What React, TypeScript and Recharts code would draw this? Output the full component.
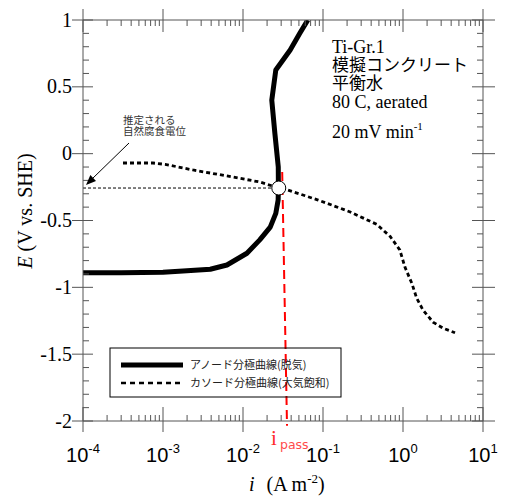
import {
  LineChart, Line, XAxis, YAxis, ReferenceDot, ReferenceLine,
} from 'recharts'

// anodic polarization curve (deaerated)
const anodeI = [1e-4, 3e-4, 1e-3, 1.78e-3, 3.9e-3, 6.3e-3, 0.0112, 0.0162, 0.0219, 0.0257, 0.0275, 0.0277, 0.0276, 0.025, 0.0229, 0.0257, 0.0389, 0.0513, 0.0646]
const anodeE = [-0.89, -0.89, -0.888, -0.878, -0.865, -0.833, -0.745, -0.645, -0.55, -0.447, -0.347, -0.26, -0.1, 0.154, 0.4, 0.626, 0.776, 0.9, 1.0]

// cathodic polarization curve (air saturated)
const cathodeI = [3.16e-4, 7.5e-4, 1.06e-3, 2.37e-3, 6.3e-3, 0.0162, 0.0282, 0.0355, 0.087, 0.219, 0.473, 0.692, 0.912, 1.06, 1.29, 1.48, 1.78, 2.37, 3.16, 4.47]
const cathodeE = [-0.07, -0.07, -0.08, -0.122, -0.167, -0.212, -0.257, -0.27, -0.347, -0.436, -0.53, -0.62, -0.72, -0.85, -0.97, -1.08, -1.17, -1.26, -1.305, -1.34]

const corrI = 0.028
const corrE = -0.257
const passTop = [0.0309, -0.137]
const passBottom = [0.0355, -2.035]

const xMajor = [1e-4, 1e-3, 1e-2, 1e-1, 1, 10]
const xTicks = xMajor.flatMap((d, i) =>
  i === xMajor.length - 1 ? [d] : [1, 2, 3, 4, 5, 6, 7, 8, 9].map(m => m * d))
const yMajor = [-2, -1.5, -1, -0.5, 0, 0.5, 1]
const yTicks = Array.from({ length: 31 }, (_, k) => Math.round((-2 + k * 0.1) * 10) / 10)

const anodeData = anodeI.map((x, k) => ({ x, e: anodeE[k] }))
const cathodeData = cathodeI.map((x, k) => ({ x, e: cathodeE[k] }))

const AX = '#555'
const SERIF = 'Liberation Serif'
const SANS = 'Liberation Sans'
const JP = 'Noto Sans CJK JP'

const isMajorX = (v: number) => Math.abs(Math.log10(v) - Math.round(Math.log10(v))) < 1e-6
const isMajorY = (v: number) => Math.abs(v * 2 - Math.round(v * 2)) < 1e-6

function BottomTick({ x, y, payload }: any) {
  const v = payload.value
  if (!isMajorX(v)) return <line x1={x} x2={x} y1={y} y2={y - 6} stroke={AX} />
  const e = Math.round(Math.log10(v))
  return (
    <g>
      <line x1={x} x2={x} y1={y - 14} y2={y + 11} stroke={AX} />
      <text x={x} y={y + 41} textAnchor="middle" fontFamily={SANS} fontSize={20} fill="#000">
        10<tspan dy={-9} fontSize={13}>{e}</tspan>
      </text>
    </g>
  )
}

function TopTick({ x, y, payload }: any) {
  const v = payload.value
  if (!isMajorX(v)) return <line x1={x} x2={x} y1={y} y2={y + 6} stroke={AX} />
  return <line x1={x} x2={x} y1={y - 11} y2={y + 12} stroke={AX} />
}

function LeftTick({ x, y, payload }: any) {
  const v = payload.value
  if (!isMajorY(v)) return <line x1={x} x2={x + 6} y1={y} y2={y} stroke={AX} />
  return (
    <g>
      <line x1={x - 11} x2={x + 10} y1={y} y2={y} stroke={AX} />
      <text x={x - 11} y={y + 6.5} textAnchor="end" fontFamily={SERIF} fontSize={20} fill="#000">
        {String(v)}
      </text>
    </g>
  )
}

function RightTick({ x, y, payload }: any) {
  const v = payload.value
  if (!isMajorY(v)) return <line x1={x} x2={x - 6} y1={y} y2={y} stroke={AX} />
  return <line x1={x - 11} x2={x + 12} y1={y} y2={y} stroke={AX} />
}

function Notes() {
  return (
    <svg width={505} height={497} style={{ position: 'absolute', left: 0, top: 0, pointerEvents: 'none' }}>
      {/* axis titles */}
      <text transform="translate(32,211) rotate(-90)" textAnchor="middle" fontFamily={SERIF} fontSize={20}>
        <tspan fontStyle="italic">E</tspan>
        <tspan dx={5}>(V vs. SHE)</tspan>
      </text>
      <text x={249} y={491} fontFamily={SERIF} fontSize={20}>
        <tspan fontStyle="italic">i</tspan>
        <tspan dx={12}>(A m</tspan>
        <tspan dy={-8} fontSize={13}>-2</tspan>
        <tspan dy={8}>)</tspan>
      </text>

      {/* conditions */}
      <text x={332} y={53} fontFamily={SERIF} fontSize={18}>Ti-Gr.1</text>
      <text x={332} y={71} fontFamily={JP} fontSize={17}>模擬コンクリート</text>
      <text x={332} y={89} fontFamily={JP} fontSize={17}>平衡水</text>
      <text x={332} y={108} fontFamily={SERIF} fontSize={18}>80 C, aerated</text>
      <text x={332} y={138} fontFamily={SERIF} fontSize={18}>
        20 mV min<tspan dy={-8} fontSize={11}>-1</tspan>
      </text>

      {/* corrosion potential note */}
      <text x={123} y={124} fontFamily={JP} fontSize={10.5} fill="#333">推定される</text>
      <text x={123} y={135} fontFamily={JP} fontSize={10.5} fill="#333">自然腐食電位</text>
      <line x1={129} y1={143} x2={92} y2={179} stroke="#000" strokeWidth={1} />
      <polygon points="86,185 96,180.9 90.4,175.1" fill="#000" />

      {/* i_pass */}
      <text x={271} y={445} fontFamily={SERIF} fontSize={21} fill="#ff2a2a">i</text>
      <text x={280} y={449} fontFamily="DejaVu Sans" fontSize={12.5} fill="#ff4a4a">pass</text>

      {/* legend */}
      <rect x={110} y={348} width={231} height={49} fill="none" stroke="#000" strokeWidth={1} />
      <line x1={121} x2={183} y1={365} y2={365} stroke="#000" strokeWidth={5} />
      <line x1={121} x2={183} y1={383} y2={383} stroke="#000" strokeWidth={2.5} strokeDasharray="5 4" />
      <text x={190} y={369} fontFamily={JP} fontSize={11} fill="#222">アノード分極曲線(脱気)</text>
      <text x={190} y={387} fontFamily={JP} fontSize={11} fill="#222">カソード分極曲線(大気飽和)</text>
    </svg>
  )
}

export default function App() {
  return (
    <div style={{ position: 'absolute', left: 0, top: 0, width: 505, height: 497, background: '#fff' }}>
      <LineChart width={505} height={497} margin={{ top: 10, right: 12, bottom: 26, left: 23 }}>
        <XAxis
          xAxisId="b" dataKey="x" type="number" scale="log" domain={[1e-4, 10]} allowDataOverflow
          orientation="bottom" height={50} ticks={xTicks} interval={0}
          tick={<BottomTick />} tickLine={false} tickSize={0} tickMargin={0}
          axisLine={{ stroke: AX }}
        />
        <XAxis
          xAxisId="t" dataKey="x" type="number" scale="log" domain={[1e-4, 10]} allowDataOverflow
          orientation="top" height={10} ticks={xTicks} interval={0}
          tick={<TopTick />} tickLine={false} tickSize={0} tickMargin={0}
          axisLine={{ stroke: AX }}
        />
        <YAxis
          yAxisId="l" dataKey="e" type="number" domain={[-2, 1]} allowDataOverflow
          orientation="left" width={60} ticks={yTicks} interval={0}
          tick={<LeftTick />} tickLine={false} tickSize={0} tickMargin={0}
          axisLine={{ stroke: AX }}
        />
        <YAxis
          yAxisId="r" dataKey="e" type="number" domain={[-2, 1]} allowDataOverflow
          orientation="right" width={10} ticks={yTicks} interval={0}
          tick={<RightTick />} tickLine={false} tickSize={0} tickMargin={0}
          axisLine={{ stroke: AX }}
        />
        <ReferenceLine
          xAxisId="b" yAxisId="l"
          segment={[{ x: 1e-4, y: corrE }, { x: corrI, y: corrE }]}
          stroke="#000" strokeWidth={1} strokeDasharray="3 2"
        />
        <Line
          xAxisId="b" yAxisId="l" data={cathodeData} dataKey="e" type="linear"
          stroke="#000" strokeWidth={2.8} strokeDasharray="4 3" dot={false}
          isAnimationActive={false}
        />
        <Line
          xAxisId="b" yAxisId="l" data={anodeData} dataKey="e" type="linear"
          stroke="#000" strokeWidth={5} strokeLinejoin="round" dot={false}
          isAnimationActive={false}
        />
        <ReferenceDot
          xAxisId="b" yAxisId="l" x={corrI} y={corrE} r={7}
          fill="#fff" stroke="#000" strokeWidth={1}
        />
        <ReferenceLine
          xAxisId="b" yAxisId="l" ifOverflow="visible"
          segment={[{ x: passTop[0], y: passTop[1] }, { x: passBottom[0], y: passBottom[1] }]}
          stroke="#ff0000" strokeWidth={2} strokeDasharray="9 5"
        />
      </LineChart>
      <Notes />
    </div>
  )
}
